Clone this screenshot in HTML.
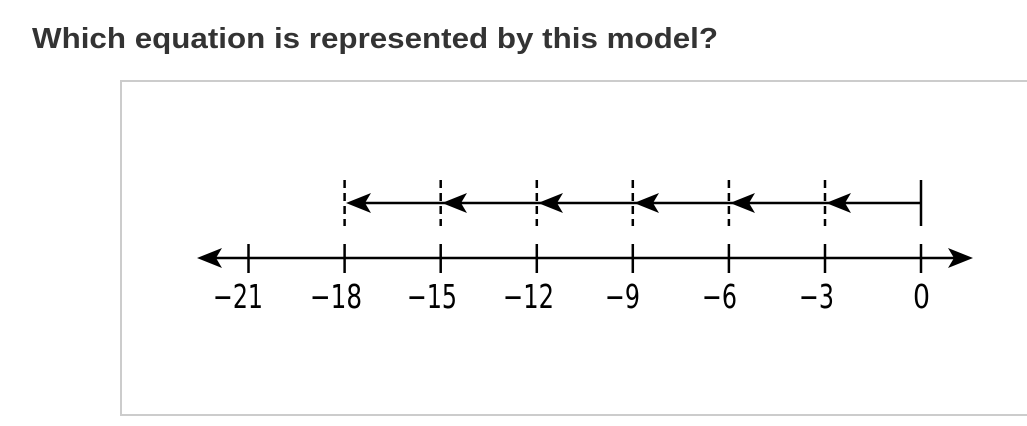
<!DOCTYPE html>
<html><head><style>
body{margin:0;background:#fff;width:1027px;height:421px;overflow:hidden}
</style></head><body>
<svg width="1027" height="421" xmlns="http://www.w3.org/2000/svg">
<text x="32" y="48" font-family="Liberation Sans, Arial, sans-serif" font-weight="bold" font-size="29" fill="#333" textLength="686" lengthAdjust="spacingAndGlyphs">Which equation is represented by this model?</text>
<rect x="121" y="81" width="920" height="334" fill="none" stroke="#ccc" stroke-width="2"/>
<g stroke="#000" stroke-width="2.5" fill="none">
<line x1="205" y1="258" x2="965" y2="258"/>
<line x1="248.5" y1="244" x2="248.5" y2="273"/>
<line x1="344.6" y1="244" x2="344.6" y2="273"/>
<line x1="440.7" y1="244" x2="440.7" y2="273"/>
<line x1="536.8" y1="244" x2="536.8" y2="273"/>
<line x1="632.8" y1="244" x2="632.8" y2="273"/>
<line x1="728.9" y1="244" x2="728.9" y2="273"/>
<line x1="825" y1="244" x2="825" y2="273"/>
<line x1="921" y1="244" x2="921" y2="273"/>
<line x1="921" y1="180" x2="921" y2="226"/>
<line x1="350" y1="203" x2="921" y2="203"/>
<g stroke-dasharray="8,5">
<line x1="344.6" y1="180" x2="344.6" y2="226"/>
<line x1="440.7" y1="180" x2="440.7" y2="226"/>
<line x1="536.8" y1="180" x2="536.8" y2="226"/>
<line x1="632.8" y1="180" x2="632.8" y2="226"/>
<line x1="728.9" y1="180" x2="728.9" y2="226"/>
<line x1="825" y1="180" x2="825" y2="226"/>
</g>
</g>
<g fill="#000">
<path d="M197 258 L222 248 L216 258 L222 268 Z"/>
<path d="M973 258 L948 248 L954 258 L948 268 Z"/>
<path d="M346 203 L371 193 L365 203 L371 213 Z"/>
<path d="M442 203 L467 193 L461 203 L467 213 Z"/>
<path d="M538 203 L563 193 L557 203 L563 213 Z"/>
<path d="M634 203 L659 193 L653 203 L659 213 Z"/>
<path d="M730 203 L755 193 L749 203 L755 213 Z"/>
<path d="M826 203 L851 193 L845 203 L851 213 Z"/>
</g>
<g font-family="DejaVu Sans Condensed, DejaVu Sans, Verdana, sans-serif" font-size="33" fill="#000" lengthAdjust="spacingAndGlyphs">
<text x="213" y="308" textLength="50" lengthAdjust="spacingAndGlyphs">−21</text>
<text x="310" y="308" textLength="52" lengthAdjust="spacingAndGlyphs">−18</text>
<text x="407" y="308" textLength="50" lengthAdjust="spacingAndGlyphs">−15</text>
<text x="503" y="308" textLength="51" lengthAdjust="spacingAndGlyphs">−12</text>
<text x="605" y="308" textLength="35" lengthAdjust="spacingAndGlyphs">−9</text>
<text x="702" y="308" textLength="35" lengthAdjust="spacingAndGlyphs">−6</text>
<text x="799" y="308" textLength="35" lengthAdjust="spacingAndGlyphs">−3</text>
<text x="913" y="308" textLength="17" lengthAdjust="spacingAndGlyphs">0</text>
</g>
</svg>
</body></html>
